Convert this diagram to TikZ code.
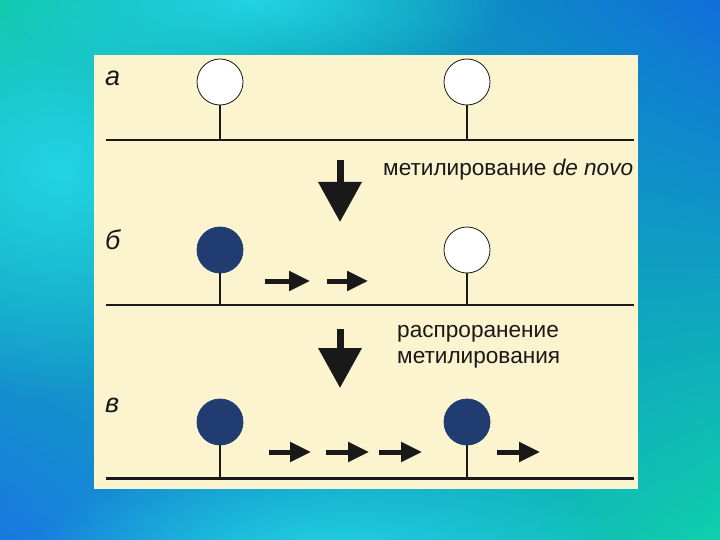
\documentclass[tikz,border=0pt]{standalone}
\usepackage{fontspec}
\setmainfont{Liberation Sans}
\usetikzlibrary{arrows.meta,fadings,shadings}
\definecolor{panel}{RGB}{251,244,206}
\definecolor{navy}{RGB}{33,60,112}
\definecolor{ink}{RGB}{25,25,25}
\definecolor{bgtl}{RGB}{10,200,150}
\definecolor{bgtr}{RGB}{16,110,218}
\definecolor{bgbl}{RGB}{24,120,226}
\definecolor{bgbr}{RGB}{14,208,170}
\definecolor{glow}{RGB}{34,212,228}
\tikzfading[name=softglow, inner color=transparent!0, outer color=transparent!100]
\tikzset{
  site/.style={circle, minimum size=46pt, inner sep=0pt, line width=0.8pt},
  openbead/.style={site, draw=ink, fill=white},
  fullbead/.style={site, draw=navy, fill=navy},
  stem/.style={draw=ink, line width=1.3pt},
  strand/.style={draw=ink, line width=1.4pt},
  thickstrand/.style={draw=ink, line width=3pt},
  bigarrow/.style={draw=ink, line width=7pt, -{Triangle[length=40pt,width=42pt]}},
  smallarrow/.style={draw=ink, line width=5pt, -{Triangle[length=21pt,width=19pt]}},
  rowlabel/.style={anchor=base west, inner sep=0pt, text=ink, font=\fontsize{27}{27}\selectfont\itshape},
  caption/.style={anchor=base west, inner sep=0pt, text=ink, font=\fontsize{22.6}{26}\selectfont},
}
\begin{document}
\begin{tikzpicture}[x=1pt, y=-1pt]
\useasboundingbox (0,0) rectangle (720,540);
% background
\shade[upper left=bgtl, upper right=bgtr, lower left=bgbl, lower right=bgbr] (0,0) rectangle (720,540);
\fill[glow, path fading=softglow] (60,170) ellipse (260 and 230);
\fill[glow, path fading=softglow] (330,560) ellipse (300 and 110);
\fill[glow, path fading=softglow] (250,0) ellipse (260 and 90);
% panel
\fill[panel] (94,55) rectangle (638,489);

% row a
\coordinate (laL) at (106,140);
\coordinate (laR) at (634,140);
\draw[strand] (laL) -- (laR);
\node[openbead] (a1) at (220,82) {};
\node[openbead] (a2) at (467,82) {};
\draw[stem] (a1.south) -- (a1.south |- laL);
\draw[stem] (a2.south) -- (a2.south |- laL);
\node[rowlabel] (la) at (105,86) {а};

% arrow 1
\coordinate (b1t) at (340,160);
\coordinate (b1h) at (340,222);
\draw[bigarrow] (b1t) -- (b1h);
\node[caption] (t1) at (383,176) {метилирование \textit{de novo}};

% row b
\coordinate (lbL) at (106,305);
\coordinate (lbR) at (634,305);
\draw[strand] (lbL) -- (lbR);
\node[fullbead] (b1) at (220,250) {};
\node[openbead] (b2) at (467,250) {};
\draw[stem] (b1.south) -- (b1.south |- lbL);
\draw[stem] (b2.south) -- (b2.south |- lbL);
\node[rowlabel] (lb) at (105,249) {б};
\coordinate (bs1) at (265,281); \coordinate (be1) at (310,281);
\coordinate (bs2) at (327,281); \coordinate (be2) at (368,281);
\draw[smallarrow] (bs1) -- (be1);
\draw[smallarrow] (bs2) -- (be2);

% arrow 2
\coordinate (b2t) at (340,329);
\coordinate (b2h) at (340,388);
\draw[bigarrow] (b2t) -- (b2h);
\node[caption] (t2) at (397,337) {распроранение};
\node[caption] (t3) at (397,363) {метилирования};

% row c
\coordinate (lcL) at (106,478);
\coordinate (lcR) at (634,478);
\draw[thickstrand] (lcL) -- (lcR);
\node[fullbead] (c1) at (220,422) {};
\node[fullbead] (c2) at (467,422) {};
\draw[stem] (c1.south) -- (c1.south |- lcL);
\draw[stem] (c2.south) -- (c2.south |- lcL);
\node[rowlabel] (lc) at (105,412) {в};
\coordinate (cs1) at (269,452); \coordinate (ce1) at (311,452);
\coordinate (cs2) at (326,452); \coordinate (ce2) at (369,452);
\coordinate (cs3) at (379,452); \coordinate (ce3) at (422,452);
\coordinate (cs4) at (497,452); \coordinate (ce4) at (540,452);
\draw[smallarrow] (cs1) -- (ce1);
\draw[smallarrow] (cs2) -- (ce2);
\draw[smallarrow] (cs3) -- (ce3);
\draw[smallarrow] (cs4) -- (ce4);
\end{tikzpicture}
\end{document}
